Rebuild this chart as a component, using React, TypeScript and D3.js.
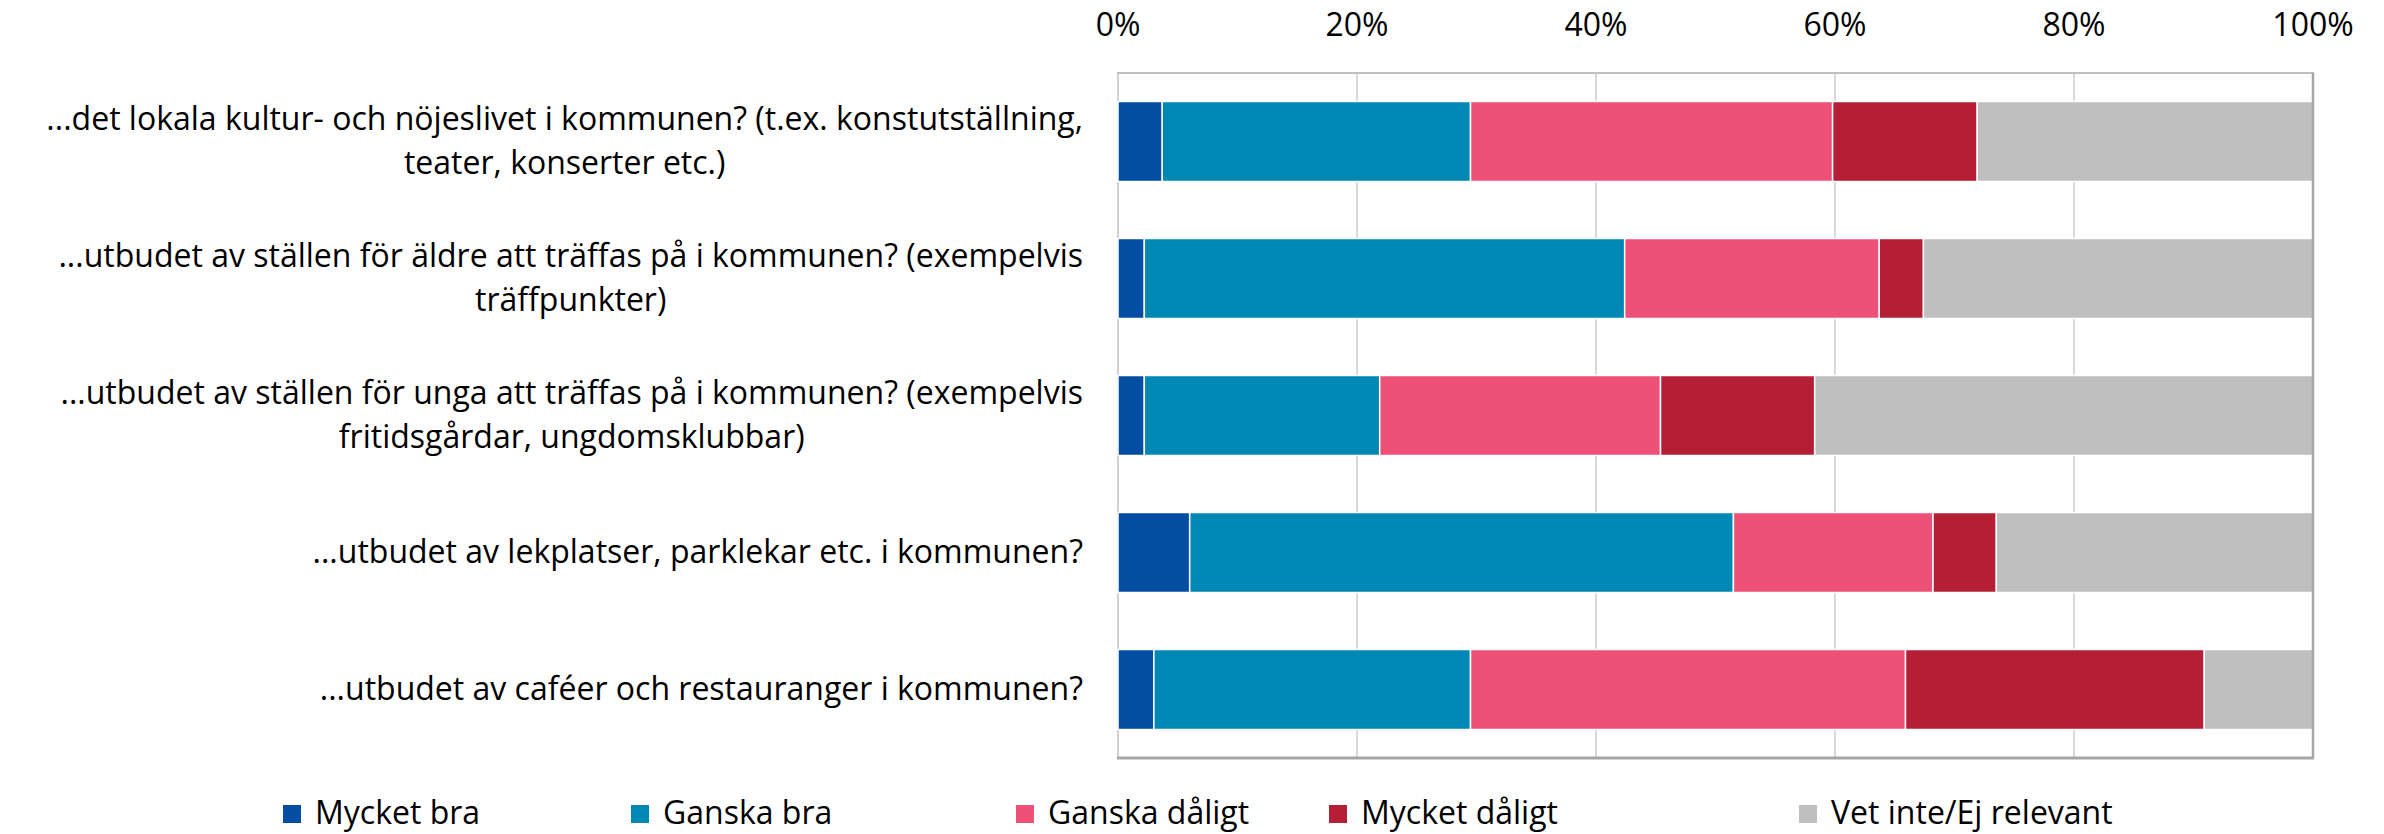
import React, { useMemo } from "react";
import * as d3 from "d3";

const width = 2384;
const height = 834;
const margin = { top: 73, right: 71, bottom: 76, left: 1118 };
const font = "'Open Sans', sans-serif";
const fontSize = 32;

// data
const categories = ["kultur", "aldre", "unga", "lekplatser", "cafeer"];
const categoryLines = [
  ["...det lokala kultur- och nöjeslivet i kommunen? (t.ex. konstutställning,", "teater, konserter etc.)"],
  ["...utbudet av ställen för äldre att träffas på i kommunen? (exempelvis", "träffpunkter)"],
  ["...utbudet av ställen för unga att träffas på i kommunen? (exempelvis", "fritidsgårdar, ungdomsklubbar)"],
  ["...utbudet av lekplatser, parklekar etc. i kommunen?"],
  ["...utbudet av caféer och restauranger i kommunen?"],
];
const seriesNames = ["Mycket bra", "Ganska bra", "Ganska dåligt", "Mycket dåligt", "Vet inte/Ej relevant"];
const mycketBra = [3.7, 2.2, 2.2, 6.0, 3.0];
const ganskaBra = [25.8, 40.2, 19.7, 45.5, 26.5];
const ganskaDaligt = [30.3, 21.3, 23.5, 16.7, 36.4];
const mycketDaligt = [12.1, 3.7, 12.9, 5.3, 25.0];
const vetInte = [28.1, 32.6, 41.7, 26.5, 9.1];
const xTicks = [0, 20, 40, 60, 80, 100];

const colors = ["#034ea2", "#0088b4", "#ef5077", "#b51f35", "#bfbfbf"];
// legend swatch left edges (layout, not data)
const legendX = [283, 631, 1016, 1329, 1799];

let ctx: CanvasRenderingContext2D | null = null;
const measure = (s: string) => {
  if (!ctx) {
    ctx = document.createElement("canvas").getContext("2d");
  }
  ctx!.font = `${fontSize}px ${font}`;
  return ctx!.measureText(s).width;
};

export default function App() {
  const table = categories.map((c, i) => ({
    cat: c,
    [seriesNames[0]]: mycketBra[i],
    [seriesNames[1]]: ganskaBra[i],
    [seriesNames[2]]: ganskaDaligt[i],
    [seriesNames[3]]: mycketDaligt[i],
    [seriesNames[4]]: vetInte[i],
  }));

  const stacked = useMemo(() => d3.stack<any>().keys(seriesNames)(table), []);

  const x = d3
    .scaleLinear()
    .domain([0, 100])
    .range([margin.left, width - margin.right]);
  const y = d3
    .scaleBand()
    .domain(categories)
    .range([margin.top, height - margin.bottom])
    .paddingInner(0.416)
    .paddingOuter(0.208);

  const plotTop = margin.top;
  const plotBottom = height - margin.bottom;
  const labelRight = 1083;
  const lineH = 44;

  return (
    <svg
      width={width}
      height={height}
      style={{ position: "absolute", left: 0, top: 0, background: "#fff" }}
      fontFamily={font}
    >
      {/* gridlines */}
      {xTicks.slice(1, -1).map((t) => (
        <line key={t} x1={x(t)} x2={x(t)} y1={plotTop} y2={plotBottom} stroke="#d9d9d9" strokeWidth={2} />
      ))}
      <line x1={x(0)} x2={x(0)} y1={plotTop} y2={plotBottom} stroke="#d0d0d0" strokeWidth={2} />

      {/* bars */}
      {stacked.map((s, si) =>
        s.map((d, i) => (
          <rect
            key={si + "-" + i}
            x={x(d[0])}
            y={y(categories[i])}
            width={x(d[1]) - x(d[0])}
            height={y.bandwidth()}
            fill={colors[si]}
            stroke="#fff"
            strokeWidth={1.5}
          />
        ))
      )}

      {/* frame */}
      <line x1={x(0) - 1} x2={x(100) + 1} y1={plotTop} y2={plotTop} stroke="#bfbfbf" strokeWidth={2} />
      <line x1={x(100)} x2={x(100)} y1={plotTop} y2={plotBottom} stroke="#a6a6a6" strokeWidth={2.5} />
      <line x1={x(0) - 1} x2={x(100) + 1} y1={plotBottom} y2={plotBottom} stroke="#a6a6a6" strokeWidth={3} />

      {/* top axis labels */}
      {xTicks.map((t) => (
        <text key={t} x={x(t)} y={36} textAnchor="middle" fontSize={fontSize} fill="#000">
          {t}%
        </text>
      ))}

      {/* category labels */}
      {categoryLines.map((lines, i) => {
        const blockW = Math.max(...lines.map(measure));
        const cx = labelRight - blockW / 2;
        const cy = y(categories[i])! + y.bandwidth() / 2;
        const y0 = cy - ((lines.length - 1) * lineH) / 2;
        return (
          <g key={i}>
            {lines.map((l, j) => (
              <text
                key={j}
                x={lines.length === 1 ? labelRight : cx}
                y={y0 + j * lineH}
                dy="0.32em"
                textAnchor={lines.length === 1 ? "end" : "middle"}
                fontSize={fontSize}
                fill="#000"
              >
                {l}
              </text>
            ))}
          </g>
        );
      })}

      {/* legend */}
      {seriesNames.map((n, i) => (
        <g key={n} transform={`translate(${legendX[i]},0)`}>
          <rect x={0} y={805} width={18} height={18} fill={colors[i]} />
          <text x={32} y={824} fontSize={fontSize} fill="#000">
            {n}
          </text>
        </g>
      ))}
    </svg>
  );
}
